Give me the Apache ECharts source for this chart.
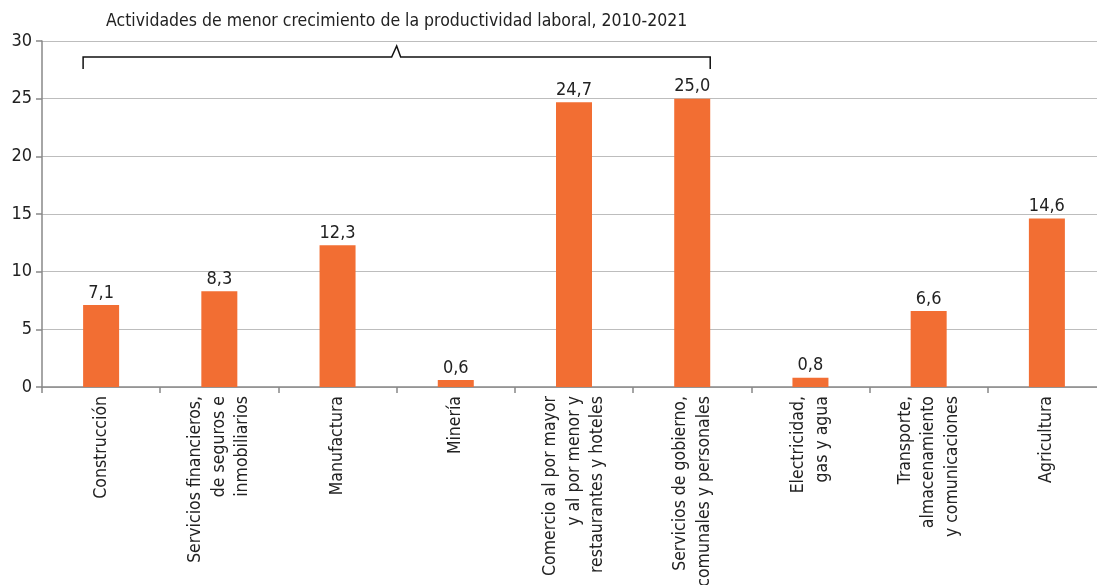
<!DOCTYPE html>
<html><head><meta charset="utf-8">
<script src="https://cdn.jsdelivr.net/npm/echarts@6/dist/echarts.min.js"></script>
<style>html,body{margin:0;padding:0;background:#fff}#c{width:1097px;height:585px}</style>
</head><body><div id="c"></div>
<script>
const categories = [
  "Construcción",
  "Servicios financieros,\nde seguros e\ninmobiliarios",
  "Manufactura",
  "Minería",
  "Comercio al por mayor\ny al por menor y\nrestaurantes y hoteles",
  "Servicios de gobierno,\ncomunales y personales",
  "Electricidad,\ngas y agua",
  "Transporte,\nalmacenamiento\ny comunicaciones",
  "Agricultura"
];
const values = [7.1, 8.3, 12.3, 0.6, 24.7, 25.0, 0.8, 6.6, 14.6];
const yTicks = [0, 5, 10, 15, 20, 25, 30];
const bracketTitle = "Actividades de menor crecimiento de la productividad laboral, 2010-2021";
const bracketFrom = 0, bracketTo = 5;

const FONT = '"Liberation Sans Narrow","DejaVu Sans Condensed","Roboto",sans-serif';
const chart = echarts.init(document.getElementById('c'), null, {renderer: 'canvas'});
const BARW = 36;
chart.setOption({
  animation: false,
  backgroundColor: '#fff',
  grid: {left: 42, width: 1064, top: 41, bottom: 198, containLabel: false, outerBoundsMode: 'none'},
  xAxis: {
    type: 'category', data: categories,
    axisLine: {lineStyle: {color: '#888', width: 1.5}},
    axisTick: {show: true, length: 6, lineStyle: {color: '#888', width: 1.5}},
    axisLabel: {rotate: 90, interval: 0, margin: 9, fontFamily: FONT, fontSize: 17.5, color: '#222', lineHeight: 23.5, align: 'right'}
  },
  yAxis: {
    type: 'value', min: yTicks[0], max: yTicks[yTicks.length-1], interval: 5,
    axisLine: {show: true, lineStyle: {color: '#888', width: 1.5}},
    axisTick: {show: true, length: 6, lineStyle: {color: '#888', width: 1.5}},
    axisLabel: {fontFamily: FONT, fontSize: 18, color: '#222', margin: 10},
    splitLine: {lineStyle: {color: '#bdbdbd', width: 1.2}}
  },
  series: [{
    type: 'bar', data: values, barWidth: BARW,
    itemStyle: {color: '#F26E33'},
    label: {show: true, position: 'top', distance: 3, fontFamily: FONT, fontSize: 18, color: '#222',
      formatter: p => p.value.toFixed(1).replace('.', ',')}
  }]
});

function drawBracket() {
  const x0 = chart.convertToPixel({xAxisIndex: 0}, bracketFrom) - BARW/2;
  const x1 = chart.convertToPixel({xAxisIndex: 0}, bracketTo) + BARW/2;
  const yTop = chart.convertToPixel({yAxisIndex: 0}, 30);
  const yH = yTop + 16, yB = yTop + 28;
  const xm = (x0 + x1) / 2;
  chart.setOption({
    graphic: [
      {type: 'polyline', shape: {points: [[x0, yB], [x0, yH], [xm - 5, yH], [xm, yH - 11], [xm + 4, yH], [x1, yH], [x1, yB]]},
       style: {stroke: '#111', lineWidth: 1.5, fill: null}, z: 10},
      {type: 'text', x: xm, y: yTop - 20, style: {text: bracketTitle, fontFamily: FONT, fontSize: 17.5, fill: '#222', textAlign: 'center', textVerticalAlign: 'middle'}, z: 10}
    ]
  });
}
drawBracket();
</script>
</body></html>
